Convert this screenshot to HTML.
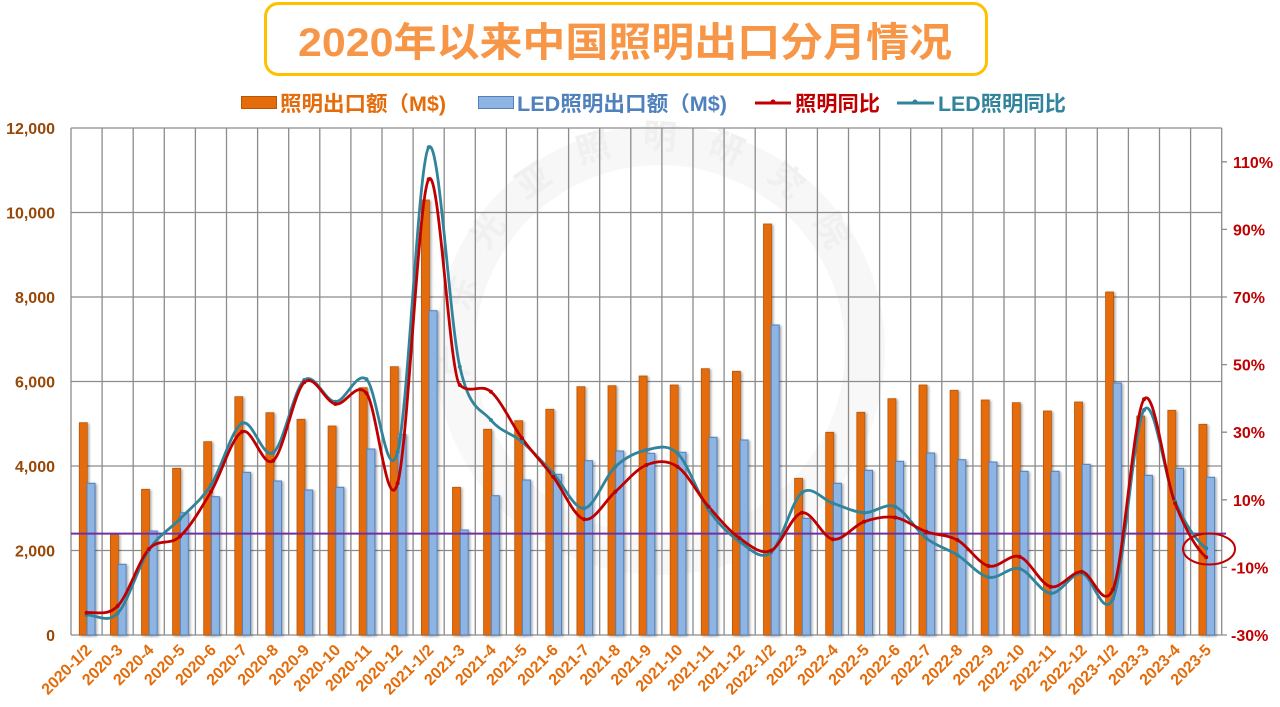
<!DOCTYPE html>
<html><head><meta charset="utf-8"><style>
html,body{margin:0;padding:0;background:#fff;}
svg{display:block;}
text{font-family:"Liberation Sans","Noto Sans CJK SC",sans-serif;font-weight:bold;}
</style></head><body>
<svg width="1280" height="707" viewBox="0 0 1280 707" xmlns="http://www.w3.org/2000/svg">
<defs>
<filter id="sh" x="-50%" y="-10%" width="200%" height="120%">
<feDropShadow dx="1.5" dy="1" stdDeviation="1.4" flood-color="#000" flood-opacity="0.35"/>
</filter>
<path id="wm" d="M472 383 A190 190 0 0 1 848 300"/>
</defs>
<rect width="1280" height="707" fill="#fff"/>

<!-- title -->
<rect x="265.5" y="3.5" width="721" height="71" rx="13" fill="#fff" stroke="#FFC000" stroke-width="3"/>
<text x="298" y="56" font-size="40" fill="#F79646" textLength="654" lengthAdjust="spacingAndGlyphs">2020年以来中国照明出口分月情况</text>

<!-- legend -->
<rect x="241.5" y="96.5" width="35" height="12" fill="#E46C0A" stroke="#B65708" stroke-width="1"/>
<text x="280" y="111" font-size="21" fill="#E46C0A" textLength="166" lengthAdjust="spacingAndGlyphs">照明出口额（M$)</text>
<rect x="478.5" y="96.5" width="35" height="12" fill="#8DB4E3" stroke="#4F81BD" stroke-width="1"/>
<text x="517" y="111" font-size="21" fill="#4F81BD" textLength="210" lengthAdjust="spacingAndGlyphs">LED照明出口额（M$)</text>
<line x1="755" y1="103" x2="791" y2="103" stroke="#C00000" stroke-width="3"/>
<circle cx="773" cy="102" r="2.5" fill="#C00000"/>
<text x="795" y="111" font-size="21" fill="#C00000" textLength="85" lengthAdjust="spacingAndGlyphs">照明同比</text>
<line x1="897" y1="103" x2="934" y2="103" stroke="#31849B" stroke-width="3"/>
<circle cx="915" cy="102" r="2.5" fill="#31849B"/>
<text x="938" y="111" font-size="21" fill="#31849B" textLength="128" lengthAdjust="spacingAndGlyphs">LED照明同比</text>

<!-- plot background -->
<rect x="71" y="128" width="1150.7" height="507" fill="#fff"/>

<!-- watermark -->
<g opacity="0.55">
<circle cx="660" cy="350" r="205" fill="none" stroke="#f2f2f2" stroke-width="40"/>
<text font-size="34" fill="#e4e4e4" letter-spacing="30"><textPath href="#wm" startOffset="6">广东光亚照明研究院</textPath></text>
</g>

<!-- grid -->
<path d="M71 128H1221.7M71 212.5H1221.7M71 297H1221.7M71 381.5H1221.7M71 466H1221.7M71 550.5H1221.7M71 635H1221.7" stroke="#8c8c8c" stroke-width="1.3" fill="none"/>
<path d="M71 128V635M102.1 128V635M133.2 128V635M164.3 128V635M195.4 128V635M226.5 128V635M257.6 128V635M288.7 128V635M319.8 128V635M350.9 128V635M382 128V635M413.1 128V635M444.2 128V635M475.3 128V635M506.4 128V635M537.5 128V635M568.6 128V635M599.7 128V635M630.8 128V635M661.9 128V635M693 128V635M724.1 128V635M755.2 128V635M786.3 128V635M817.4 128V635M848.5 128V635M879.6 128V635M910.7 128V635M941.8 128V635M972.9 128V635M1004 128V635M1035.1 128V635M1066.2 128V635M1097.3 128V635M1128.4 128V635M1159.5 128V635M1190.6 128V635M1221.7 128V635" stroke="#8c8c8c" stroke-width="1.3" fill="none"/>
<!-- right ticks -->
<path d="M1221.7 161.8H1227M1221.7 229.4H1227M1221.7 297H1227M1221.7 364.6H1227M1221.7 432.2H1227M1221.7 499.8H1227M1221.7 567.4H1227M1221.7 635H1227" stroke="#8c8c8c" stroke-width="1.3"/>

<!-- orange bars -->
<g fill="#E46C0A" stroke="#B65708" stroke-width="0.8" filter="url(#sh)">
<rect x="79.3" y="422.7" width="8" height="212.3"/>
<rect x="110.4" y="534.3" width="8" height="100.7"/>
<rect x="141.5" y="489.3" width="8" height="145.7"/>
<rect x="172.6" y="468.3" width="8" height="166.7"/>
<rect x="203.7" y="441.7" width="8" height="193.3"/>
<rect x="234.8" y="396.7" width="8" height="238.3"/>
<rect x="265.9" y="412.7" width="8" height="222.3"/>
<rect x="297" y="419.3" width="8" height="215.7"/>
<rect x="328.1" y="426" width="8" height="209"/>
<rect x="359.2" y="387.7" width="8" height="247.3"/>
<rect x="390.3" y="366.7" width="8" height="268.3"/>
<rect x="421.4" y="200" width="8" height="435"/>
<rect x="452.5" y="487.3" width="8" height="147.7"/>
<rect x="483.6" y="429.3" width="8" height="205.7"/>
<rect x="514.7" y="420.7" width="8" height="214.3"/>
<rect x="545.8" y="409.3" width="8" height="225.7"/>
<rect x="576.9" y="386.7" width="8" height="248.3"/>
<rect x="608" y="385.7" width="8" height="249.3"/>
<rect x="639.1" y="376" width="8" height="259"/>
<rect x="670.2" y="385" width="8" height="250"/>
<rect x="701.3" y="368.7" width="8" height="266.3"/>
<rect x="732.4" y="371.3" width="8" height="263.7"/>
<rect x="763.5" y="224" width="8" height="411"/>
<rect x="794.6" y="478.3" width="8" height="156.7"/>
<rect x="825.7" y="432.3" width="8" height="202.7"/>
<rect x="856.8" y="412.3" width="8" height="222.7"/>
<rect x="887.9" y="398.7" width="8" height="236.3"/>
<rect x="919" y="385" width="8" height="250"/>
<rect x="950.1" y="390.3" width="8" height="244.7"/>
<rect x="981.2" y="400" width="8" height="235"/>
<rect x="1012.3" y="402.7" width="8" height="232.3"/>
<rect x="1043.4" y="411" width="8" height="224"/>
<rect x="1074.5" y="402" width="8" height="233"/>
<rect x="1105.6" y="292" width="8" height="343"/>
<rect x="1136.7" y="416" width="8" height="219"/>
<rect x="1167.8" y="410.3" width="8" height="224.7"/>
<rect x="1198.9" y="424.3" width="8" height="210.7"/>
</g>
<!-- blue bars -->
<g fill="#8DB4E3" stroke="#4F81BD" stroke-width="1" filter="url(#sh)">
<rect x="87" y="483.3" width="8" height="151.7"/>
<rect x="118.1" y="564.3" width="8" height="70.7"/>
<rect x="149.2" y="531" width="8" height="104"/>
<rect x="180.3" y="512.7" width="8" height="122.3"/>
<rect x="211.4" y="496.7" width="8" height="138.3"/>
<rect x="242.5" y="472.3" width="8" height="162.7"/>
<rect x="273.6" y="481" width="8" height="154"/>
<rect x="304.7" y="490" width="8" height="145"/>
<rect x="335.8" y="487.3" width="8" height="147.7"/>
<rect x="366.9" y="449" width="8" height="186"/>
<rect x="398" y="434.3" width="8" height="200.7"/>
<rect x="429.1" y="310.7" width="8" height="324.3"/>
<rect x="460.2" y="530" width="8" height="105"/>
<rect x="491.3" y="495.7" width="8" height="139.3"/>
<rect x="522.4" y="480" width="8" height="155"/>
<rect x="553.5" y="474.3" width="8" height="160.7"/>
<rect x="584.6" y="460.7" width="8" height="174.3"/>
<rect x="615.7" y="451" width="8" height="184"/>
<rect x="646.8" y="453.3" width="8" height="181.7"/>
<rect x="677.9" y="452.3" width="8" height="182.7"/>
<rect x="709" y="437.3" width="8" height="197.7"/>
<rect x="740.1" y="440" width="8" height="195"/>
<rect x="771.2" y="325" width="8" height="310"/>
<rect x="802.3" y="518.3" width="8" height="116.7"/>
<rect x="833.4" y="483.3" width="8" height="151.7"/>
<rect x="864.5" y="470.3" width="8" height="164.7"/>
<rect x="895.6" y="461.3" width="8" height="173.7"/>
<rect x="926.7" y="453" width="8" height="182"/>
<rect x="957.8" y="459.7" width="8" height="175.3"/>
<rect x="988.9" y="462" width="8" height="173"/>
<rect x="1020" y="471.3" width="8" height="163.7"/>
<rect x="1051.1" y="471.3" width="8" height="163.7"/>
<rect x="1082.2" y="464.3" width="8" height="170.7"/>
<rect x="1113.3" y="383" width="8" height="252"/>
<rect x="1144.4" y="475.3" width="8" height="159.7"/>
<rect x="1175.5" y="468.3" width="8" height="166.7"/>
<rect x="1206.6" y="477.3" width="8" height="157.7"/>
</g>

<!-- zero line -->
<line x1="71" y1="533.6" x2="1226" y2="533.6" stroke="#7030A0" stroke-width="2"/>

<!-- teal line -->
<path fill="none" stroke="#31849B" stroke-width="2.8" stroke-linejoin="round" stroke-linecap="round" d="M86.6,615 C97,614.7 107.3,624.1 117.7,613.3 C128.1,602.5 138.4,565.7 148.8,550 C159.2,534.3 169.5,529.8 179.9,519 C190.3,508.2 200.6,501 211,485 C221.4,469 231.7,428.7 242.1,423.3 C252.5,417.9 262.8,459.9 273.2,452.7 C283.6,445.5 293.9,388.5 304.3,380 C314.7,371.5 325,401.8 335.4,401.7 C345.8,401.6 356.1,370.9 366.5,379.3 C376.9,387.7 387.2,490.7 397.6,452 C408,413.3 418.3,161.5 428.7,147.3 C439.1,133.1 449.4,321.2 459.8,366.7 C470.2,412.2 480.5,407.5 490.9,420 C501.3,432.5 511.6,432.8 522,441.7 C532.4,450.6 542.7,462.2 553.1,473.3 C563.5,484.4 573.8,509.4 584.2,508.3 C594.6,507.2 604.9,476.4 615.3,466.7 C625.7,457 636,452.2 646.4,450 C656.8,447.8 667.1,443.3 677.5,453.3 C687.9,463.3 698.2,495.3 708.6,510 C719,524.7 729.3,534.6 739.7,541.7 C750.1,548.8 760.4,560.9 770.8,552.7 C781.2,544.5 791.5,500.9 801.9,492.7 C812.3,484.5 822.6,500 833,503.3 C843.4,506.6 853.7,512.1 864.1,512.7 C874.5,513.3 884.8,502.4 895.2,506.7 C905.6,511 915.9,530.25 926.3,538.3 C936.7,546.35 947,548.5 957.4,555 C967.8,561.5 978.1,575 988.5,577.3 C998.9,579.6 1009.2,566 1019.6,568.7 C1030,571.4 1040.3,592.5 1050.7,593.3 C1061.1,594.1 1071.4,572.35 1081.8,573.3 C1092.2,574.25 1102.5,620 1112.9,599 C1123.3,578 1133.6,426.2 1144,410 C1154.4,393.8 1164.7,478.65 1175.1,501.7 C1185.5,524.75 1195.8,540.5 1206.2,548.3"/>
<!-- red line -->
<path fill="none" stroke="#C00000" stroke-width="2.8" stroke-linejoin="round" stroke-linecap="round" d="M86.6,612.7 C97,611.6 107.3,616.6 117.7,606 C128.1,595.4 138.4,560.9 148.8,549.3 C159.2,537.7 169.5,546.1 179.9,536.5 C190.3,526.9 200.6,509.2 211,491.7 C221.4,474.2 231.7,436.9 242.1,431.7 C252.5,426.5 262.8,468.9 273.2,460.7 C283.6,452.5 293.9,391.8 304.3,382.3 C314.7,372.8 325,402.2 335.4,404 C345.8,405.8 356.1,380.1 366.5,393.3 C376.9,406.5 387.2,519 397.6,483.3 C408,447.6 418.3,195.7 428.7,179.3 C439.1,162.9 449.4,375 459.8,385 C470.2,395 480.5,382.8 490.9,391.7 C501.3,400.6 511.6,424.1 522,438.3 C532.4,452.5 542.7,463.2 553.1,476.7 C563.5,490.2 573.8,516.8 584.2,519.3 C594.6,521.8 604.9,500.8 615.3,491.7 C625.7,482.6 636,469.2 646.4,465 C656.8,460.8 667.1,459.7 677.5,466.7 C687.9,473.7 698.2,494.8 708.6,506.7 C719,518.6 729.3,531 739.7,538.3 C750.1,545.6 760.4,555 770.8,550.7 C781.2,546.4 791.5,514.6 801.9,512.7 C812.3,510.8 822.6,537.8 833,539.3 C843.4,540.8 853.7,525.3 864.1,521.7 C874.5,518.1 884.8,515.8 895.2,517.5 C905.6,519.2 915.9,527.95 926.3,531.7 C936.7,535.45 947,534.3 957.4,540 C967.8,545.7 978.1,563.2 988.5,566 C998.9,568.8 1009.2,553.25 1019.6,556.7 C1030,560.15 1040.3,584.2 1050.7,586.7 C1061.1,589.2 1071.4,571.2 1081.8,571.7 C1092.2,572.2 1102.5,612 1112.9,589.5 C1123.3,567 1133.6,413.7 1144,399.3 C1154.4,384.9 1164.7,477 1175.1,503.3 C1185.5,529.6 1195.8,548.3 1206.2,557.3"/>
<!-- markers -->
<g fill="#31849B">
<circle cx="86.6" cy="615" r="2"/><circle cx="117.7" cy="613.3" r="2"/><circle cx="148.8" cy="550" r="2"/><circle cx="179.9" cy="519" r="2"/><circle cx="211" cy="485" r="2"/><circle cx="242.1" cy="423.3" r="2"/><circle cx="273.2" cy="452.7" r="2"/><circle cx="304.3" cy="380" r="2"/><circle cx="335.4" cy="401.7" r="2"/><circle cx="366.5" cy="379.3" r="2"/><circle cx="397.6" cy="452" r="2"/><circle cx="428.7" cy="147.3" r="2"/><circle cx="459.8" cy="366.7" r="2"/><circle cx="490.9" cy="420" r="2"/><circle cx="522" cy="441.7" r="2"/><circle cx="553.1" cy="473.3" r="2"/><circle cx="584.2" cy="508.3" r="2"/><circle cx="615.3" cy="466.7" r="2"/><circle cx="646.4" cy="450" r="2"/><circle cx="677.5" cy="453.3" r="2"/><circle cx="708.6" cy="510" r="2"/><circle cx="739.7" cy="541.7" r="2"/><circle cx="770.8" cy="552.7" r="2"/><circle cx="801.9" cy="492.7" r="2"/><circle cx="833" cy="503.3" r="2"/><circle cx="864.1" cy="512.7" r="2"/><circle cx="895.2" cy="506.7" r="2"/><circle cx="926.3" cy="538.3" r="2"/><circle cx="957.4" cy="555" r="2"/><circle cx="988.5" cy="577.3" r="2"/><circle cx="1019.6" cy="568.7" r="2"/><circle cx="1050.7" cy="593.3" r="2"/><circle cx="1081.8" cy="573.3" r="2"/><circle cx="1112.9" cy="599" r="2"/><circle cx="1144" cy="410" r="2"/><circle cx="1175.1" cy="501.7" r="2"/><circle cx="1206.2" cy="548.3" r="2"/>
</g>
<g fill="#C00000">
<circle cx="86.6" cy="612.7" r="2"/><circle cx="117.7" cy="606" r="2"/><circle cx="148.8" cy="549.3" r="2"/><circle cx="179.9" cy="536.5" r="2"/><circle cx="211" cy="491.7" r="2"/><circle cx="242.1" cy="431.7" r="2"/><circle cx="273.2" cy="460.7" r="2"/><circle cx="304.3" cy="382.3" r="2"/><circle cx="335.4" cy="404" r="2"/><circle cx="366.5" cy="393.3" r="2"/><circle cx="397.6" cy="483.3" r="2"/><circle cx="428.7" cy="179.3" r="2"/><circle cx="459.8" cy="385" r="2"/><circle cx="490.9" cy="391.7" r="2"/><circle cx="522" cy="438.3" r="2"/><circle cx="553.1" cy="476.7" r="2"/><circle cx="584.2" cy="519.3" r="2"/><circle cx="615.3" cy="491.7" r="2"/><circle cx="646.4" cy="465" r="2"/><circle cx="677.5" cy="466.7" r="2"/><circle cx="708.6" cy="506.7" r="2"/><circle cx="739.7" cy="538.3" r="2"/><circle cx="770.8" cy="550.7" r="2"/><circle cx="801.9" cy="512.7" r="2"/><circle cx="833" cy="539.3" r="2"/><circle cx="864.1" cy="521.7" r="2"/><circle cx="895.2" cy="517.5" r="2"/><circle cx="926.3" cy="531.7" r="2"/><circle cx="957.4" cy="540" r="2"/><circle cx="988.5" cy="566" r="2"/><circle cx="1019.6" cy="556.7" r="2"/><circle cx="1050.7" cy="586.7" r="2"/><circle cx="1081.8" cy="571.7" r="2"/><circle cx="1112.9" cy="589.5" r="2"/><circle cx="1144" cy="399.3" r="2"/><circle cx="1175.1" cy="503.3" r="2"/><circle cx="1206.2" cy="557.3" r="2"/>
</g>

<!-- highlight ellipse -->
<ellipse cx="1209" cy="549" rx="26" ry="15.5" fill="none" stroke="#C00000" stroke-width="2"/>

<!-- left axis labels -->
<g font-size="16" fill="#974706" text-anchor="end">
<text x="55" y="134">12,000</text>
<text x="55" y="218.5">10,000</text>
<text x="55" y="303">8,000</text>
<text x="55" y="387.5">6,000</text>
<text x="55" y="472">4,000</text>
<text x="55" y="556.5">2,000</text>
<text x="55" y="641">0</text>
</g>
<!-- right axis labels -->
<g font-size="16" fill="#C00000">
<text x="1233" y="167.8">110%</text>
<text x="1233" y="235.4">90%</text>
<text x="1233" y="303">70%</text>
<text x="1233" y="370.6">50%</text>
<text x="1233" y="438.2">30%</text>
<text x="1233" y="505.8">10%</text>
<text x="1231" y="573.4">-10%</text>
<text x="1231" y="641">-30%</text>
</g>

<!-- x labels -->
<g font-size="16" fill="#E46C0A" text-anchor="end">
<text transform="translate(92.6,651) rotate(-45)">2020-1/2</text>
<text transform="translate(123.7,651) rotate(-45)">2020-3</text>
<text transform="translate(154.8,651) rotate(-45)">2020-4</text>
<text transform="translate(185.9,651) rotate(-45)">2020-5</text>
<text transform="translate(217,651) rotate(-45)">2020-6</text>
<text transform="translate(248.1,651) rotate(-45)">2020-7</text>
<text transform="translate(279.2,651) rotate(-45)">2020-8</text>
<text transform="translate(310.3,651) rotate(-45)">2020-9</text>
<text transform="translate(341.4,651) rotate(-45)">2020-10</text>
<text transform="translate(372.5,651) rotate(-45)">2020-11</text>
<text transform="translate(403.6,651) rotate(-45)">2020-12</text>
<text transform="translate(434.7,651) rotate(-45)">2021-1/2</text>
<text transform="translate(465.8,651) rotate(-45)">2021-3</text>
<text transform="translate(496.9,651) rotate(-45)">2021-4</text>
<text transform="translate(528,651) rotate(-45)">2021-5</text>
<text transform="translate(559.1,651) rotate(-45)">2021-6</text>
<text transform="translate(590.2,651) rotate(-45)">2021-7</text>
<text transform="translate(621.3,651) rotate(-45)">2021-8</text>
<text transform="translate(652.4,651) rotate(-45)">2021-9</text>
<text transform="translate(683.5,651) rotate(-45)">2021-10</text>
<text transform="translate(714.6,651) rotate(-45)">2021-11</text>
<text transform="translate(745.7,651) rotate(-45)">2021-12</text>
<text transform="translate(776.8,651) rotate(-45)">2022-1/2</text>
<text transform="translate(807.9,651) rotate(-45)">2022-3</text>
<text transform="translate(839,651) rotate(-45)">2022-4</text>
<text transform="translate(870.1,651) rotate(-45)">2022-5</text>
<text transform="translate(901.2,651) rotate(-45)">2022-6</text>
<text transform="translate(932.3,651) rotate(-45)">2022-7</text>
<text transform="translate(963.4,651) rotate(-45)">2022-8</text>
<text transform="translate(994.5,651) rotate(-45)">2022-9</text>
<text transform="translate(1025.6,651) rotate(-45)">2022-10</text>
<text transform="translate(1056.7,651) rotate(-45)">2022-11</text>
<text transform="translate(1087.8,651) rotate(-45)">2022-12</text>
<text transform="translate(1118.9,651) rotate(-45)">2023-1/2</text>
<text transform="translate(1150,651) rotate(-45)">2023-3</text>
<text transform="translate(1181.1,651) rotate(-45)">2023-4</text>
<text transform="translate(1212.2,651) rotate(-45)">2023-5</text>
</g>
</svg>
</body></html>
